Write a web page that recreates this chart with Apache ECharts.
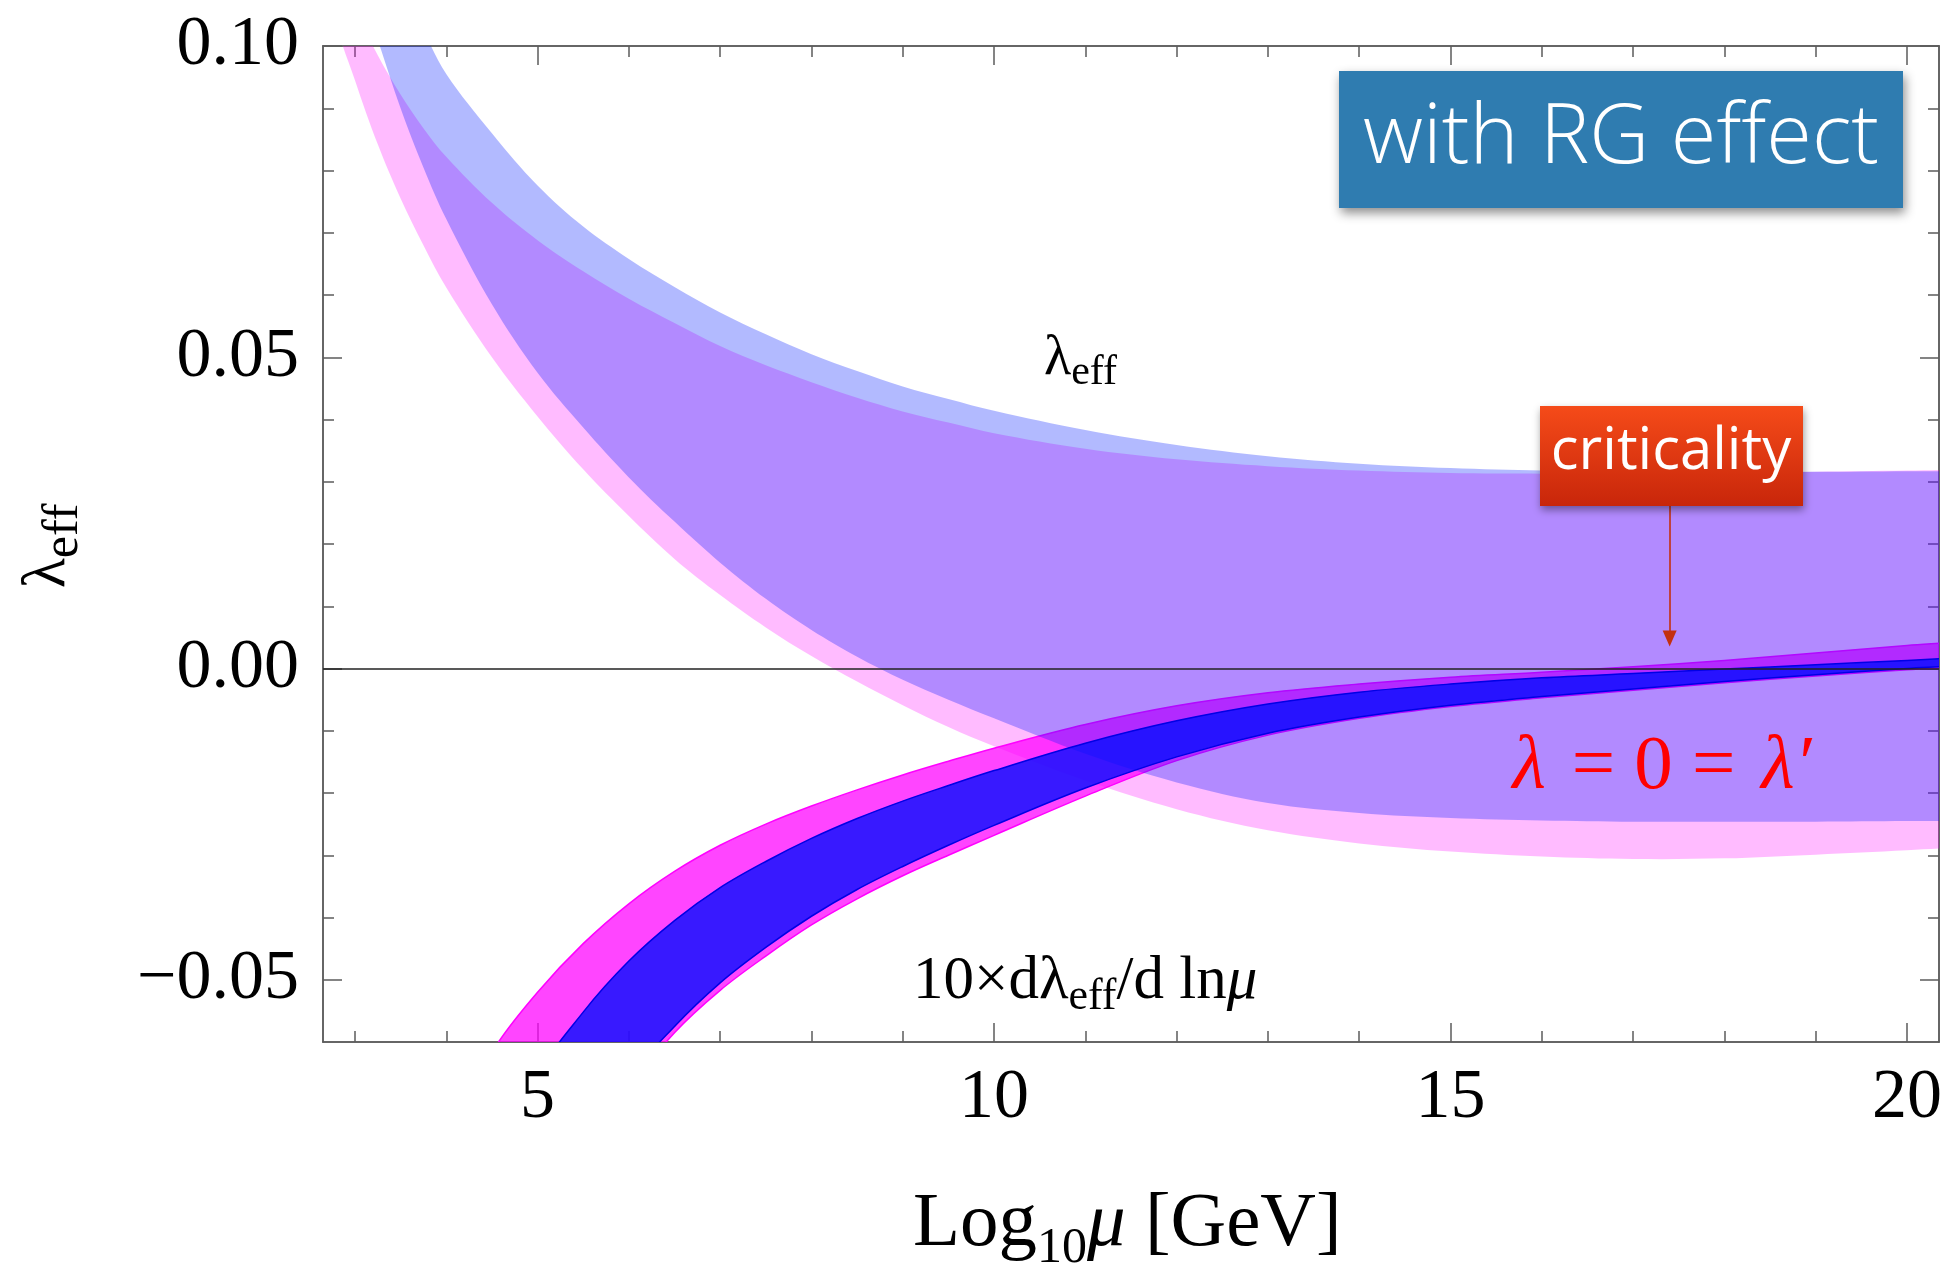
<!DOCTYPE html>
<html><head><meta charset="utf-8">
<script src="https://cdn.jsdelivr.net/npm/echarts@6/dist/echarts.min.js"></script>
<style>html,body{margin:0;padding:0;background:#fff}#c{width:1949px;height:1271px}</style>
</head><body><div id="c"></div>
<script>
// ---------- axes ----------
const xMin = 2.65, xMax = 20.35;
const yMin = -0.06, yMax = 0.10;
const xTickLabels = [5, 10, 15, 20];
const xMinorTicks = [3, 4, 5, 6, 7, 8, 9, 10, 11, 12, 13, 14, 15, 16, 17, 18, 19, 20];
const yTickLabels = [-0.05, 0, 0.05, 0.10];
const yMinorTicks = [-0.05, -0.04, -0.03, -0.02, -0.01, 0, 0.01, 0.02, 0.03, 0.04, 0.05, 0.06, 0.07, 0.08, 0.09];

// ---------- lambda_eff bands (light) ----------
const xLight = [2.8, 3.0, 3.25, 3.5, 3.75, 4.0, 4.5, 5.0, 5.5, 6.0, 6.5, 7.0, 7.5, 8.0, 8.5, 9.0, 9.5, 10, 11, 12, 13, 14, 15, 16, 17, 18, 19, 20, 20.4, 21];
const pinkLo = [0.1040, 0.0945, 0.0842, 0.0755, 0.0680, 0.0612, 0.0500, 0.0405, 0.0320, 0.0245, 0.0176, 0.0118, 0.0066, 0.0020, -0.0021, -0.0059, -0.0094, -0.0125, -0.0180, -0.0226, -0.0260, -0.0281, -0.0294, -0.0302, -0.0306, -0.0305, -0.0299, -0.0292, -0.0289, -0.0285];
const pinkHi = [0.1140, 0.1060, 0.0985, 0.0922, 0.0868, 0.0822, 0.0748, 0.0688, 0.0638, 0.0594, 0.0555, 0.0518, 0.0487, 0.0460, 0.0435, 0.0413, 0.0395, 0.0378, 0.0353, 0.0336, 0.0325, 0.0318, 0.0314, 0.0313, 0.0313, 0.0314, 0.0316, 0.0318, 0.0319, 0.0320];
const blueLo = [0.1215, 0.1120, 0.1010, 0.0900, 0.0805, 0.0722, 0.0585, 0.0475, 0.0387, 0.0307, 0.0236, 0.0170, 0.0112, 0.0062, 0.0019, -0.0018, -0.0050, -0.0080, -0.0137, -0.0183, -0.0216, -0.0232, -0.0240, -0.0244, -0.0246, -0.0246, -0.0246, -0.0245, -0.0245, -0.0245];
const blueHi = [0.1400, 0.1300, 0.1200, 0.1100, 0.1025, 0.0955, 0.0860, 0.0776, 0.0710, 0.0658, 0.0613, 0.0572, 0.0537, 0.0505, 0.0478, 0.0453, 0.0433, 0.0414, 0.0383, 0.0359, 0.0341, 0.0329, 0.0322, 0.0318, 0.0316, 0.0316, 0.0316, 0.0317, 0.0317, 0.0317];

// ---------- 10 x d lambda_eff / d ln mu bands (dark) ----------
const xDeriv = [4.3, 4.55, 5.0, 5.5, 6.0, 6.5, 7.0, 7.5, 8.0, 8.5, 9.0, 9.5, 10, 11, 12, 13, 14, 15, 16, 17, 18, 19, 20, 20.4, 21];
const magentaLo = [-0.1000, -0.0950, -0.0880, -0.0780, -0.0675, -0.0585, -0.0517, -0.0462, -0.0412, -0.0370, -0.0333, -0.0300, -0.0268, -0.0205, -0.0148, -0.0107, -0.0080, -0.0061, -0.0047, -0.0035, -0.0023, -0.0012, -0.0002, 0.0001, 0.0005];
const magentaHi = [-0.0680, -0.0605, -0.0520, -0.0442, -0.0378, -0.0326, -0.0284, -0.0250, -0.0221, -0.0195, -0.0171, -0.0149, -0.0128, -0.0090, -0.0060, -0.0039, -0.0025, -0.0014, -0.0006, 0.0003, 0.0013, 0.0025, 0.0037, 0.0041, 0.0047];
const darkBlueLo = [-0.1200, -0.1100, -0.0950, -0.0800, -0.0660, -0.0575, -0.0505, -0.0448, -0.0398, -0.0355, -0.0318, -0.0284, -0.0252, -0.0192, -0.0142, -0.0104, -0.0078, -0.0059, -0.0045, -0.0033, -0.0021, -0.0010, 0.0000, 0.0003, 0.0008];
const darkBlueHi = [-0.0900, -0.0830, -0.0655, -0.0552, -0.0470, -0.0405, -0.0352, -0.0310, -0.0273, -0.0241, -0.0213, -0.0188, -0.0164, -0.0120, -0.0084, -0.0057, -0.0038, -0.0025, -0.0015, -0.0008, -0.0001, 0.0006, 0.0013, 0.0016, 0.0020];

// ---------- annotation anchor ----------
const criticalityX = 17.4;
const arrowFromY = 0.0261, arrowToY = 0.0048;

const SERIF = '"Liberation Serif", "Times New Roman", "DejaVu Serif", serif';
const SANS = '"Open Sans", "Noto Sans", sans-serif';
const FRAME = '#5c5c5c';

// band drawn as a smooth polygon between lo and hi, positioned through the cartesian scales
function bandSeries(id, xs, lo, hi, fill, edge, edgeW) {
  const mid = Math.floor(xs.length / 2);
  return {
    type: 'custom', name: id, coordinateSystem: 'cartesian2d', xAxisIndex: 0, yAxisIndex: 0,
    clip: true, silent: true, animation: false,
    data: [[xs[mid], (lo[mid] + hi[mid]) / 2]],
    renderItem: function (params, api) {
      const upper = xs.map((x, i) => api.coord([x, hi[i]]));
      const lower = xs.map((x, i) => api.coord([x, lo[i]]));
      const children = [{
        type: 'polygon', shape: { points: upper.concat(lower.slice().reverse()), smooth: 0.35 },
        style: { fill: fill, stroke: null }
      }];
      if (edge) {
        children.push({ type: 'polyline', shape: { points: upper, smooth: 0.35 }, style: { stroke: edge, lineWidth: edgeW, fill: null } });
        children.push({ type: 'polyline', shape: { points: lower, smooth: 0.35 }, style: { stroke: edge, lineWidth: edgeW, fill: null } });
      }
      return { type: 'group', children: children };
    }
  };
}

function yFmt(v) {
  const s = Math.abs(v).toFixed(2);
  return v < -1e-9 ? '\u2212' + s : s;
}

function xAxisDef(pos, ticks, len, labels) {
  return {
    type: 'value', position: pos, min: xMin, max: xMax,
    axisLine: { show: true, onZero: false, lineStyle: { color: FRAME, width: 1.5 } },
    axisTick: { show: true, inside: true, length: len, customValues: ticks, lineStyle: { color: FRAME, width: 1.5 } },
    axisLabel: labels ? { show: true, customValues: labels, margin: 22, fontFamily: SERIF, fontSize: 70, color: '#000' } : { show: false },
    splitLine: { show: false }, minorTick: { show: false }
  };
}
function yAxisDef(pos, ticks, len, labels) {
  return {
    type: 'value', position: pos, min: yMin, max: yMax,
    axisLine: { show: true, onZero: false, lineStyle: { color: FRAME, width: 1.5 } },
    axisTick: { show: true, inside: true, length: len, customValues: ticks, lineStyle: { color: FRAME, width: 1.5 } },
    axisLabel: labels ? { show: true, customValues: labels, margin: 24, fontFamily: SERIF, fontSize: 70, color: '#000', formatter: yFmt } : { show: false },
    splitLine: { show: false }, minorTick: { show: false }
  };
}

// rich text helper: main font F, subscript font S
function subRich(F, S, shift) {
  return {
    m: { fontSize: F, lineHeight: F, fontFamily: SERIF, fill: '#000', verticalAlign: 'top' },
    mi: { fontSize: F, lineHeight: F, fontFamily: SERIF, fontStyle: 'italic', fill: '#000', verticalAlign: 'top' },
    s: { fontSize: S, lineHeight: S, fontFamily: SERIF, fill: '#000', verticalAlign: 'top',
         padding: [Math.round(shift + 0.8 * (F - S)), 0, 0, 0] }
  };
}

const series = [
  bandSeries('dmag', xDeriv, magentaLo, magentaHi, 'rgba(255,0,255,0.73)', 'rgba(255,0,255,1)', 1.5),
  bandSeries('lpink', xLight, pinkLo, pinkHi, 'rgba(255,0,255,0.267)', null, 0),
  bandSeries('lblue', xLight, blueLo, blueHi, 'rgba(0,25,255,0.30)', null, 0),
  bandSeries('dblue', xDeriv, darkBlueLo, darkBlueHi, 'rgba(0,13,255,0.78)', 'rgba(0,0,230,1)', 1.5),
  {
    type: 'line', name: 'zero', data: [], silent: true, animation: false,
    markLine: { silent: true, symbol: 'none', label: { show: false }, animation: false,
      lineStyle: { color: '#222', width: 1.5, type: 'solid' }, data: [{ yAxis: 0 }] }
  }, {
    type: 'line', name: 'arrow', data: [], silent: true, animation: false,
    markLine: { silent: true, symbol: ['none', 'triangle'], symbolSize: [14, 16], label: { show: false }, animation: false,
      lineStyle: { color: '#c3300f', width: 1.6, type: 'solid' },
      data: [[{ coord: [criticalityX, arrowFromY] }, { coord: [criticalityX, arrowToY] }]] }
  }
];

const chart = echarts.init(document.getElementById('c'), null, { renderer: 'canvas' });
chart.setOption({
  animation: false,
  backgroundColor: '#fff',
  grid: { left: 323, top: 46, width: 1616, height: 996, containLabel: false, outerBoundsMode: 'none' },
  xAxis: [
    xAxisDef('bottom', xMinorTicks, 11, xTickLabels),
    xAxisDef('bottom', xTickLabels, 19, null),
    xAxisDef('top', xMinorTicks, 11, null),
    xAxisDef('top', xTickLabels, 19, null)
  ],
  yAxis: [
    yAxisDef('left', yMinorTicks, 11, yTickLabels),
    yAxisDef('left', yTickLabels, 19, null),
    yAxisDef('right', yMinorTicks, 11, null),
    yAxisDef('right', yTickLabels, 19, null)
  ],
  series: series,
  graphic: [
    { type: 'text', x: 48, y: 546, rotation: Math.PI / 2, z: 100,
      style: { text: '{m|λ}{s|eff}', align: 'center', verticalAlign: 'middle', rich: subRich(62, 50, 12) } },
    { type: 'text', x: 913, y: 1186, z: 100,
      style: { text: '{m|Log}{s|10}{mi|μ}{m| [GeV]}', align: 'left', verticalAlign: 'top', rich: subRich(77, 50, 16) } },
    { type: 'text', x: 1044, y: 331, z: 100,
      style: { text: '{m|λ}{s|eff}', align: 'left', verticalAlign: 'top', rich: subRich(56, 42, 10) } },
    { type: 'text', x: 913, y: 951, z: 100,
      style: { text: '{m|10×dλ}{s|eff}{m|/d ln}{mi|μ}', align: 'left', verticalAlign: 'top', rich: subRich(61, 44, 10) } },
    { type: 'text', x: 1662, y: 730, z: 100,
      style: { text: '{r|λ}{q|\u200A = 0 = \u200A}{r|λ′}', align: 'center', verticalAlign: 'top',
        rich: {
          r: { fontSize: 77, lineHeight: 76, fontFamily: SERIF, fontStyle: 'italic', fill: '#ff0000' },
          q: { fontSize: 77, lineHeight: 76, fontFamily: SERIF, fill: '#ff0000' }
        } } },
    { type: 'rect', z: 100, shape: { x: 1339, y: 71, width: 564, height: 137 },
      style: { fill: '#2f7cb0', shadowBlur: 10, shadowOffsetX: 2, shadowOffsetY: 5, shadowColor: 'rgba(0,0,0,0.45)' } },
    { type: 'text', z: 101, x: 1621, y: 139,
      style: { text: 'with RG effect', fill: '#fff', fontSize: 83, fontWeight: 300, fontFamily: SANS, align: 'center', verticalAlign: 'middle' } },
    { type: 'rect', z: 100, shape: { x: 1540, y: 406, width: 263, height: 100 },
      style: { fill: new echarts.graphic.LinearGradient(0, 0, 0, 1, [{ offset: 0, color: '#f54b19' }, { offset: 1, color: '#c8260a' }]),
        shadowBlur: 8, shadowOffsetX: 1, shadowOffsetY: 4, shadowColor: 'rgba(0,0,0,0.4)' } },
    { type: 'text', z: 101, x: 1671, y: 452,
      style: { text: 'criticality', fill: '#fff', fontSize: 58, fontFamily: SANS, align: 'center', verticalAlign: 'middle' } }
  ]
});
</script>
</body></html>
